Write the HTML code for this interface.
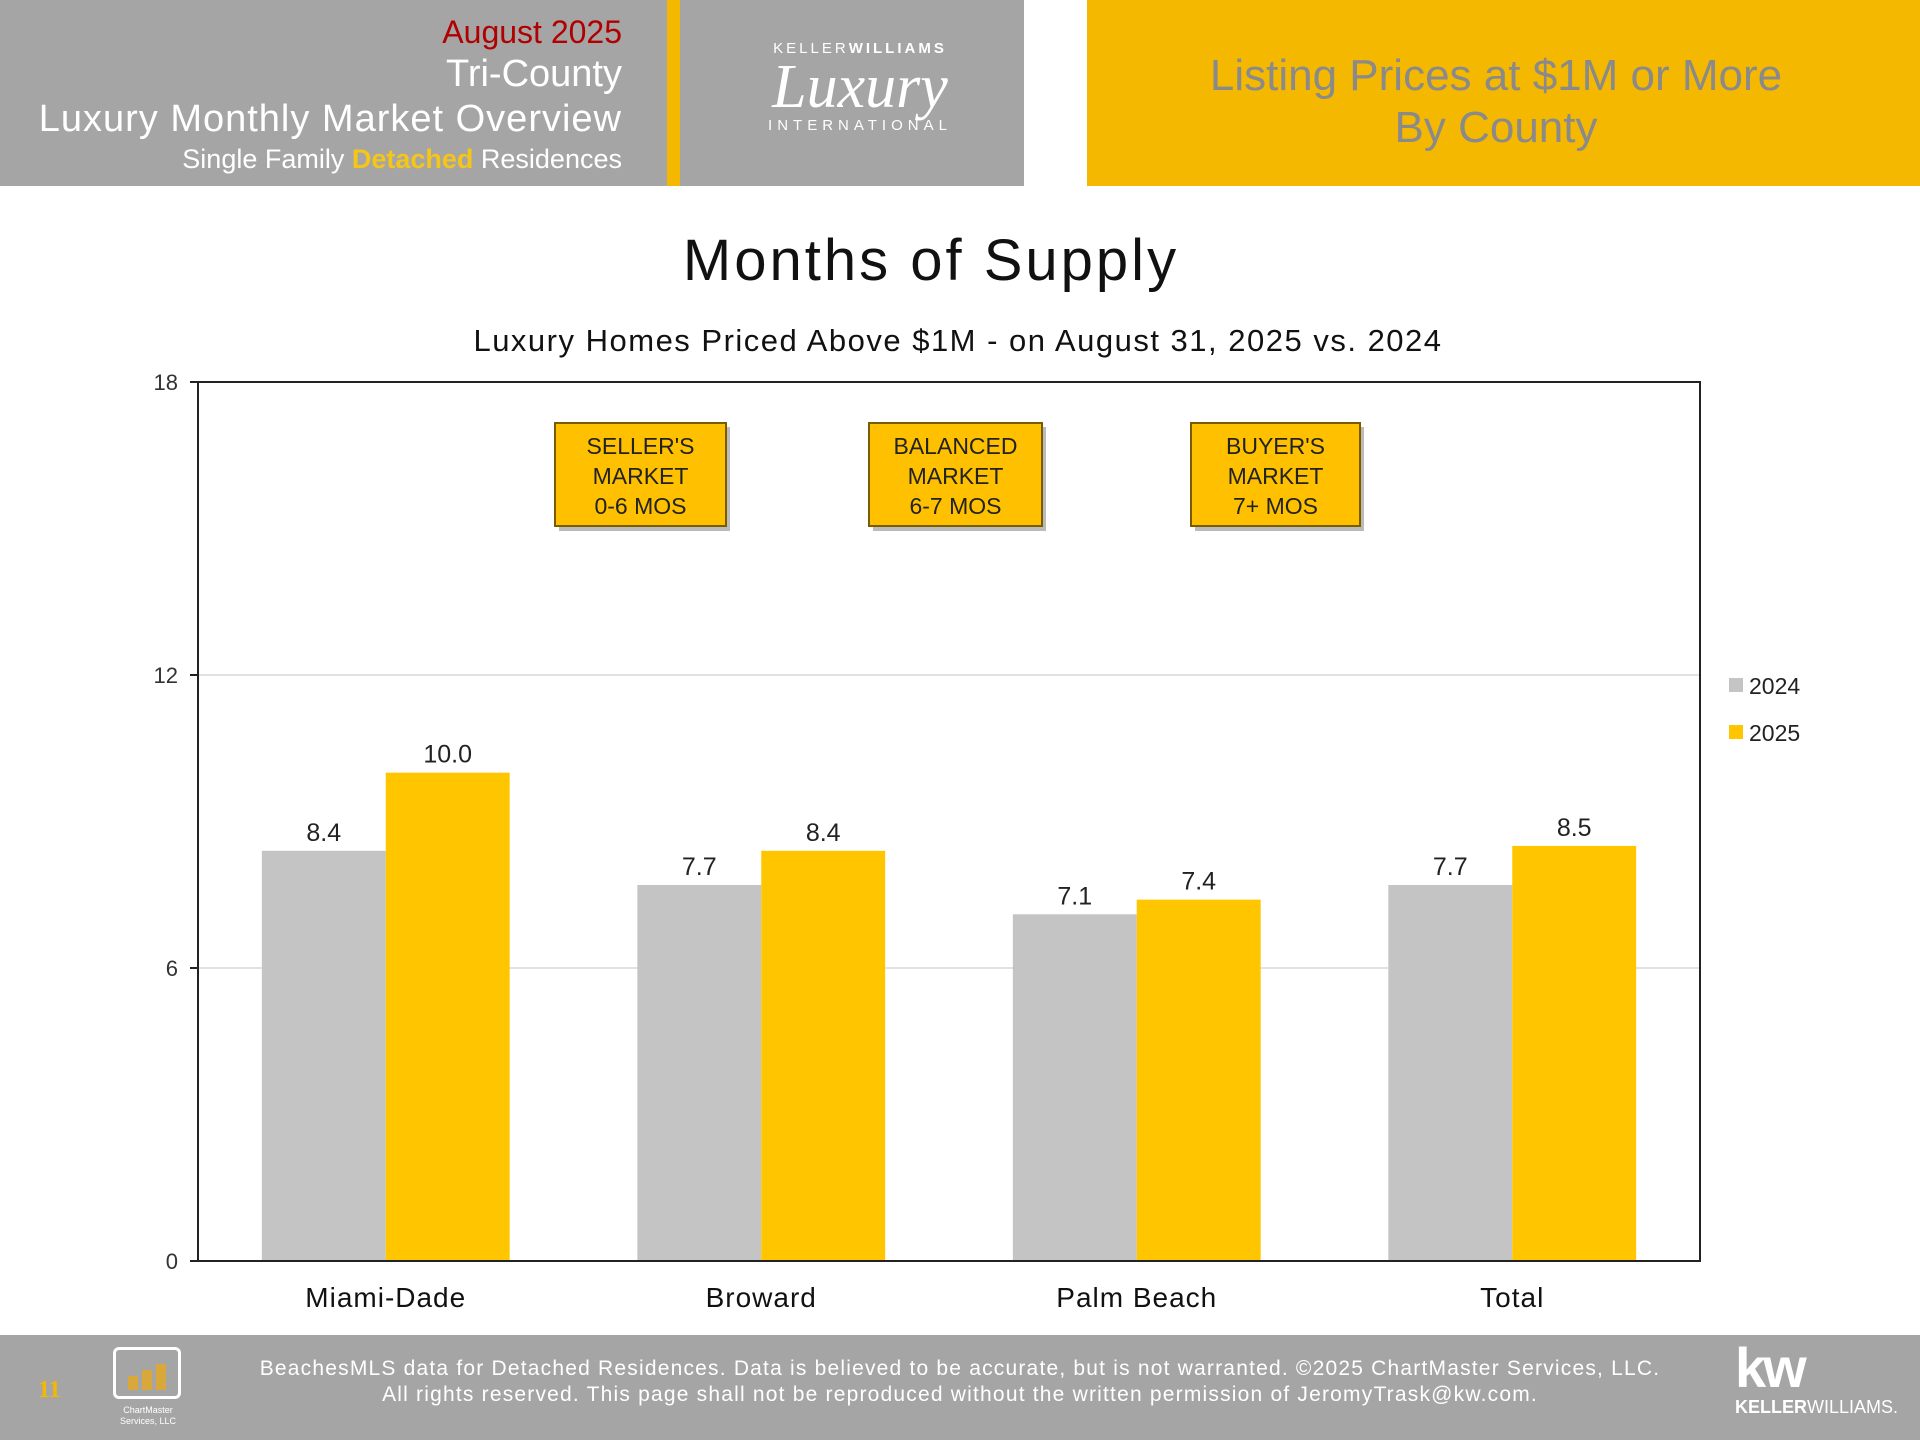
<!DOCTYPE html>
<html><head><meta charset="utf-8"><style>
html,body{margin:0;padding:0;width:1920px;height:1440px;overflow:hidden;background:#fff;font-family:"Liberation Sans","DejaVu Sans",sans-serif}
.abs{position:absolute}
</style></head><body>
<div class="abs" style="left:0;top:0;width:1024px;height:186px;background:#a5a5a5"></div>
<div class="abs" style="left:667px;top:0;width:13px;height:186px;background:#f5b800"></div>
<div class="abs" style="right:1298px;top:14px;font-size:32px;color:#b00000;text-align:right">August 2025</div>
<div class="abs" style="right:1298px;top:53px;font-size:38px;color:#fff">Tri-County</div>
<div class="abs" style="right:1298px;top:98px;font-size:38px;color:#fff;white-space:nowrap;letter-spacing:1px">Luxury Monthly Market Overview</div>
<div class="abs" style="right:1298px;top:144px;font-size:27px;color:#fff;white-space:nowrap">Single Family <b style="color:#f5c518">Detached</b> Residences</div>
<div class="abs" style="left:700px;top:40px;width:320px;height:100px;color:#fff;text-align:center">
 <div style="font-size:15px;letter-spacing:3px">KELLER<b>WILLIAMS</b></div>
 <div style="font-family:'Liberation Serif',serif;font-style:italic;font-size:62px;line-height:60px">Luxury</div>
 <div style="font-size:15px;letter-spacing:5px">INTERNATIONAL</div>
</div>
<div class="abs" style="left:1087px;top:0;width:833px;height:186px;background:#f5b800"></div>
<div class="abs" style="left:1087px;top:50px;width:818px;text-align:center;font-size:44px;line-height:52px;color:#8a8a8a">Listing Prices at $1M or More<br>By County</div>

<svg class="abs" style="left:0;top:0" width="1920" height="1440" id="chart">
 <text x="931" y="280" text-anchor="middle" font-size="58" letter-spacing="3" fill="#111">Months of Supply</text>
 <text x="958" y="351" text-anchor="middle" font-size="31" letter-spacing="1.5" fill="#111">Luxury Homes Priced Above $1M - on August 31,  2025 vs. 2024</text>
 <g id="grid"></g><g id="bars"></g>
 <rect x="198" y="382" width="1502" height="879" fill="none" stroke="#222" stroke-width="2"/>
 <g id="boxes"></g>
 <g>
  <rect x="1729" y="678" width="14" height="14" fill="#c4c4c4"/>
  <text x="1749" y="694" font-size="23" fill="#222">2024</text>
  <rect x="1729" y="725" width="14" height="14" fill="#ffc600"/>
  <text x="1749" y="741" font-size="23" fill="#222">2025</text>
 </g>
</svg>

<div class="abs" style="left:0;top:1335px;width:1920px;height:105px;background:#a5a5a5"></div>
<div class="abs" style="left:38px;top:1377px;font-family:'Liberation Serif',serif;font-size:24px;color:#f5b800;font-weight:bold">11</div>
<div class="abs" style="left:113px;top:1347px;width:68px;height:52px;border:3px solid #fff;border-radius:6px;box-sizing:border-box">
 <div style="position:absolute;left:12px;bottom:6px;width:10px;height:14px;background:#d9a83a"></div>
 <div style="position:absolute;left:26px;bottom:6px;width:10px;height:20px;background:#d9a83a"></div>
 <div style="position:absolute;left:40px;bottom:6px;width:10px;height:26px;background:#d9a83a"></div>
</div>
<div class="abs" style="left:108px;top:1405px;width:80px;text-align:center;font-size:9px;color:#fff;line-height:11px">ChartMaster<br>Services, LLC</div>
<div class="abs" style="left:180px;top:1356px;width:1560px;text-align:center;font-size:21px;line-height:26px;color:#fff;letter-spacing:1.2px;white-space:nowrap">BeachesMLS data for Detached Residences.  Data is believed to be accurate, but is not warranted.   ©2025  ChartMaster Services, LLC.<br>All rights reserved. This page shall not be reproduced without the written permission of JeromyTrask@kw.com.</div>
<div class="abs" style="left:1735px;top:1340px;color:#fff;text-align:left">
 <div style="font-size:56px;font-weight:bold;line-height:56px;letter-spacing:-3px">kw</div>
 <div style="font-size:18px;line-height:22px"><b>KELLER</b>WILLIAMS.</div>
</div>

<script>
const categories=["Miami-Dade","Broward","Palm Beach","Total"];
const values2024=[8.4,7.7,7.1,7.7];
const values2025=[10.0,8.4,7.4,8.5];
const yTicks=[0,6,12,18];
const marketLabels=[["SELLER'S","MARKET","0-6 MOS"],["BALANCED","MARKET","6-7 MOS"],["BUYER'S","MARKET","7+ MOS"]];
const NS="http://www.w3.org/2000/svg";
const X0=198,X1=1700,Y0=1261,Y1=382,YMAX=18;
const y=v=>Y0-(v/YMAX)*(Y0-Y1);
const band=(X1-X0)/categories.length;
const xc=i=>X0+band*(i+0.5);
const bw=band*0.33;
function mk(tag,attrs,parent){const e=document.createElementNS(NS,tag);for(const k in attrs)e.setAttribute(k,attrs[k]);parent.appendChild(e);return e;}
const grid=document.getElementById('grid'),bars=document.getElementById('bars'),boxes=document.getElementById('boxes');
yTicks.forEach(t=>{
 if(t>0&&t<YMAX){const l=mk('line',{x1:X0,x2:X1,y1:y(t),y2:y(t),stroke:'#d9d9d9','stroke-width':1.5},grid);
 
 }
 const tk=mk('line',{x1:X0-8,x2:X0,y1:y(t),y2:y(t),stroke:'#222','stroke-width':2},grid);
 
 
 const tx=mk('text',{x:178,y:y(t)+8,'text-anchor':'end','font-size':22,fill:'#333'},grid);tx.textContent=t;
 
 
});
categories.forEach((c,i)=>{
 [[values2024,'#c4c4c4',-1,'2024'],[values2025,'#ffc600',0,'2025']].forEach(([arr,col,off,yr])=>{
  const v=arr[i];const x=xc(i)+off*bw;
  const r=mk('rect',{x:x,y:y(v),width:bw,height:Y0-y(v),fill:col},bars);
  
  
  const t=mk('text',{x:x+bw/2,y:y(v)-10,'text-anchor':'middle','font-size':25,fill:'#222'},bars);t.textContent=v.toFixed(1);
  
  
 });
 const t=mk('text',{x:xc(i),y:1307,'text-anchor':'middle','font-size':28,'letter-spacing':1,fill:'#111'},bars);t.textContent=c;
 
 
});
const boxX=[555,869,1191],boxW=[171,173,169];
marketLabels.forEach((lines,i)=>{
 const g=mk('g',{},boxes);
 
 
 mk('rect',{x:boxX[i]+4,y:427,width:boxW[i],height:104,fill:'#777',opacity:0.5},g);
 mk('rect',{x:boxX[i],y:423,width:boxW[i],height:103,fill:'#ffc000',stroke:'#7a5c00','stroke-width':2},g);
 lines.forEach((s,j)=>{const t=mk('text',{x:boxX[i]+boxW[i]/2,y:454+j*30,'text-anchor':'middle','font-size':23,fill:'#222'},g);t.textContent=s;});
});
</script>
</body></html>
